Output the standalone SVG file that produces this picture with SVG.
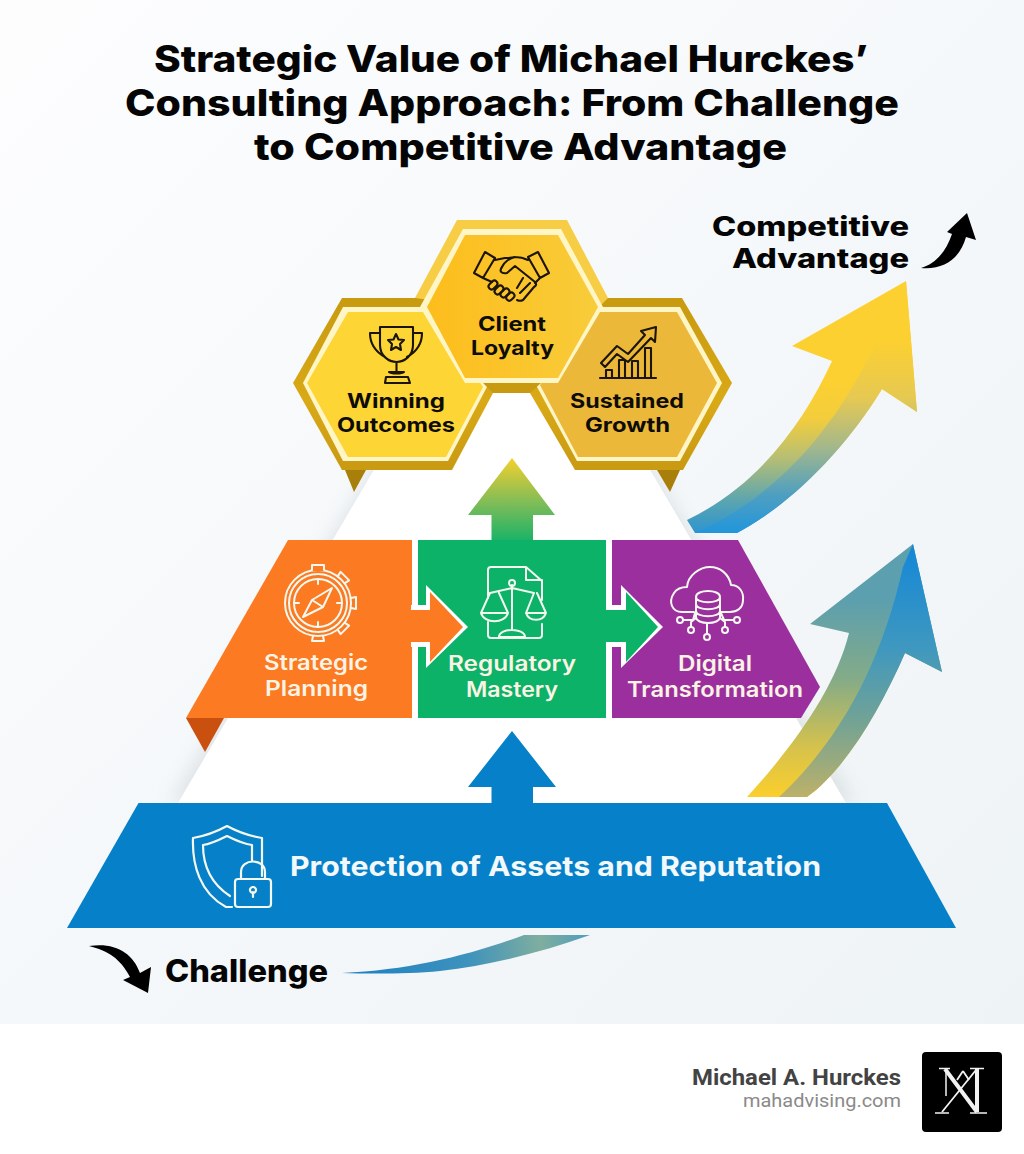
<svg xmlns="http://www.w3.org/2000/svg" width="1024" height="1154" viewBox="0 0 1024 1154">
<style>
text{font-family:"Inter","Liberation Sans",sans-serif}
.t{font-weight:800;fill:#050505;text-anchor:start}
.title{font-size:37px}
.hx{font-weight:700;font-size:20px;fill:#0e0c06}
.mid{font-weight:600;font-size:21px;fill:#fbf3e4}
.ic{fill:none;stroke:#1c1505;stroke-width:2.1;stroke-linejoin:round;stroke-linecap:round}
.iw{fill:none;stroke:#f4f8ef;stroke-width:2;stroke-linejoin:round;stroke-linecap:round}
.tooth{fill:#fb7a22;stroke:none}
</style>
<defs>
<linearGradient id="bg" x1="0" y1="0" x2="1" y2="1"><stop offset="0" stop-color="#fdfdfe"/><stop offset=".5" stop-color="#f5f8fa"/><stop offset="1" stop-color="#eef3f5"/></linearGradient>
<linearGradient id="hexTop" x1="0" y1="0" x2="1" y2="0"><stop offset="0" stop-color="#fdbd1c"/><stop offset="1" stop-color="#f8cc3a"/></linearGradient>
<linearGradient id="goldRim" x1="0" y1="0" x2="0" y2="1"><stop offset="0" stop-color="#c89a10"/><stop offset=".6" stop-color="#d9a916"/><stop offset="1" stop-color="#c99a12"/></linearGradient>
<linearGradient id="upG" x1="0" y1="458" x2="0" y2="540" gradientUnits="userSpaceOnUse"><stop offset="0" stop-color="#f4d02e"/><stop offset=".55" stop-color="#7fbc58"/><stop offset="1" stop-color="#1cb367"/></linearGradient>
<linearGradient id="yL" x1="0" y1="380" x2="0" y2="533" gradientUnits="userSpaceOnUse"><stop offset="0" stop-color="#fdd031"/><stop offset=".25" stop-color="#f3cd3c"/><stop offset=".5" stop-color="#b9bf72"/><stop offset=".8" stop-color="#58a4b2"/><stop offset="1" stop-color="#2e94d0"/></linearGradient>
<linearGradient id="yR" x1="0" y1="340" x2="0" y2="533" gradientUnits="userSpaceOnUse"><stop offset="0" stop-color="#fdd031"/><stop offset=".3" stop-color="#e6c952"/><stop offset=".55" stop-color="#a5b88a"/><stop offset=".8" stop-color="#4f9fc0"/><stop offset="1" stop-color="#2196dc"/></linearGradient>
<linearGradient id="bL" x1="0" y1="600" x2="0" y2="797" gradientUnits="userSpaceOnUse"><stop offset="0" stop-color="#5c9fae"/><stop offset=".4" stop-color="#84ab88"/><stop offset=".75" stop-color="#d6c24c"/><stop offset="1" stop-color="#fbcf2c"/></linearGradient>
<linearGradient id="bR" x1="0" y1="550" x2="0" y2="797" gradientUnits="userSpaceOnUse"><stop offset="0" stop-color="#1688d6"/><stop offset=".4" stop-color="#3f98bf"/><stop offset=".7" stop-color="#74a394"/><stop offset="1" stop-color="#bcb168"/></linearGradient>
<linearGradient id="sw" x1="342" y1="973" x2="590" y2="935" gradientUnits="userSpaceOnUse"><stop offset="0" stop-color="#1b80c4"/><stop offset=".5" stop-color="#3d92bd"/><stop offset=".8" stop-color="#7fae9f"/><stop offset="1" stop-color="#4f9dbd"/></linearGradient>
<filter id="blur" x="-10%" y="-10%" width="120%" height="120%"><feGaussianBlur stdDeviation="9"/></filter>
</defs>

<rect width="1024" height="1154" fill="#fff"/>
<rect id="background" width="1024" height="1024" fill="url(#bg)"/>
<polygon points="512,240 170,803 855,803" fill="#aab2b8" opacity=".3" filter="url(#blur)"/>
<polygon id="pyramid" points="512,235 178,803 846,803" fill="#fff"/>

<g id="title">
<text class="t title" x="154" y="72" textLength="714" lengthAdjust="spacingAndGlyphs">Strategic Value of Michael Hurckes’</text>
<text class="t title" x="125" y="116" textLength="774" lengthAdjust="spacingAndGlyphs">Consulting Approach: From Challenge</text>
<text class="t title" x="254" y="160" textLength="533" lengthAdjust="spacingAndGlyphs">to Competitive Advantage</text>
</g>

<g id="winning-outcomes">
<polygon points="345,470 366,470 354,492" fill="#a97f0c"/>
<polygon points="342,298 430,298 497,383 493,393 452,470 342,470 293,383" fill="url(#goldRim)"/>
<polygon points="343,307 430,307 488,385 448,461 343,461 303,383" fill="#fff6c8"/>
<polygon points="348,312 430,312 483,387 446,457 348,457 307,383" fill="#fdd535"/>
<path class="ic" d="M380,327 H413 V345 C413,356 404,362 396.500,362 C389,362 380,356 380,345 Z M380,333 H370 C370,345 376,352 385,357 M413,333 H422 C422,345 416,352 407,357 M396.500,362 V372 M389,372 C391,374 402,374 404,372 Z M385,383 L386,377 H408 L410,383 Z"/>
<polygon class="ic" points="396,334 398.500,339.500 404,340 400,344 401,350 396,347 391,350 392,344 388,340 393.500,339.500"/>
<text class="hx" x="347" y="408" textLength="98" lengthAdjust="spacingAndGlyphs">Winning</text>
<text class="hx" x="337" y="432" textLength="118" lengthAdjust="spacingAndGlyphs">Outcomes</text>
</g>

<g id="sustained-growth">
<polygon points="657,470 680,470 670,492" fill="#a97f0c"/>
<polygon points="595,298 682,298 732,383 683,470 575,470 530,393 526,383" fill="url(#goldRim)"/>
<polygon points="595,307 680,307 722,383 680,461 577,461 536,385" fill="#fff6c8"/>
<polygon points="597,312 677,312 717,383 677,457 578,457 540,385" fill="#ecb83a"/>
<path class="ic" d="M600,378 H656 M606,378 V370 H612 V378 M619,378 V360 H625 V378 M632,378 V361 H638 V378 M645,378 V348 H651 V378 M601,363 L617,346 L628,354 L645,335 L641,331 L656,327 L655,342 L651,338 L628,362 L617,354 L605,367 Z"/>
<text class="hx" x="570" y="408" textLength="114" lengthAdjust="spacingAndGlyphs">Sustained</text>
<text class="hx" x="585" y="432" textLength="85" lengthAdjust="spacingAndGlyphs">Growth</text>
</g>

<g id="client-loyalty">
<polygon points="483,383 541,383 530,393 493,393" fill="#c89a10"/>
<polygon points="457,220 567,220 608,298 598,308 558,300 430,300 415,298" fill="#f6cd45"/>
<polygon points="463,229 561,229 603,307 558,383 465,383 420,307" fill="#fff6c8"/>
<polygon points="465,235 558,235 598,307 558,378 465,378 427,307" fill="url(#hexTop)"/>
<path class="ic" d="M485,252 L495,258 L483,278 L474,273 Z M538,252 L528,257 L540,278 L549,273 Z M495,260 L505,258 C510,258 512,258 515,257 C520,257 524,258 528,260 M515,257 C510,258 504,262 502,267 C499,271 501,274 507,273 L515,266 L535,282 C537,284 536,286 534,287 L523,300 C521,301 519,301 517,300 M540,278 L535,283 M483,278 L492,282 M523,278 L517,288 M530,283 L520,293"/>
<rect class="ic" x="488" y="282" width="10" height="6" rx="3" transform="rotate(-45 493 285)"/>
<rect class="ic" x="494" y="287" width="10" height="6" rx="3" transform="rotate(-45 499 290)"/>
<rect class="ic" x="500" y="290" width="10" height="6" rx="3" transform="rotate(-45 505 293)"/>
<rect class="ic" x="506" y="294" width="9" height="6" rx="3" transform="rotate(-45 510 297)"/>
<text class="hx" x="478" y="331" textLength="68" lengthAdjust="spacingAndGlyphs">Client</text>
<text class="hx" x="471" y="355" textLength="83" lengthAdjust="spacingAndGlyphs">Loyalty</text>
</g>

<g id="regulatory-mastery">
<rect x="418" y="540" width="188" height="178" fill="#0bb268"/>
<path class="iw" d="M488,598 V570 Q488,567 491,567 H526 L542,581 V600 M542,624 V635 Q542,638 539,638 H491 Q488,638 488,635 V622 M526,567 V580 H542"/>
<path class="iw" d="M512,585 V629 M490,593 L512,588 L534,593 M490,593 L481,613 H508 L499,593 M534,593 L526,613 H546 L537,593 M481,613 C484,624 505,624 508,613 M526,613 C529,622 543,622 546,613 M499,637 C499,632 506,630 512,630 C518,630 525,632 525,637 Z"/>
<circle class="iw" cx="512" cy="583" r="3"/>
<text class="mid" x="448" y="671" textLength="128" lengthAdjust="spacingAndGlyphs">Regulatory</text>
<text class="mid" x="466" y="697" textLength="92" lengthAdjust="spacingAndGlyphs">Mastery</text>
</g>

<g id="digital-transformation">
<polygon points="612,540 738,540 820,687 801,718 612,718" fill="#9b2f9e"/>
<path class="iw" d="M694,612 H682 C672,612 668,602 674,593 C678,587 684,587 687,587 C688,575 700,567 710,567 C720,567 729,574 731,585 C739,585 744,592 743,600 C743,608 737,612 730,612 H720"/>
<path class="iw" d="M696,597 C696,589 720,589 720,597 V617 C720,625 696,625 696,617 Z M696,597 C696,604 720,604 720,597 M696,604 C696,611 720,611 720,604 M696,611 C696,618 720,618 720,611"/>
<path class="iw" d="M683,620 H693 L695,613 M691,627 V622 L696,618 M707,634 V623 M725,627 V622 L720,618 M734,620 H724 L721,613"/>
<circle class="iw" cx="680" cy="620" r="3"/><circle class="iw" cx="691" cy="630" r="3"/><circle class="iw" cx="707" cy="637" r="3"/><circle class="iw" cx="725" cy="630" r="3"/><circle class="iw" cx="737" cy="620" r="3"/>
<text class="mid" x="678" y="671" textLength="74" lengthAdjust="spacingAndGlyphs">Digital</text>
<text class="mid" x="627" y="697" textLength="176" lengthAdjust="spacingAndGlyphs">Transformation</text>
</g>

<g id="strategic-planning">
<polygon points="186,718 224,718 205,752" fill="#c9500f"/>
<polygon points="288,540 412,540 412,718 186,718" fill="#fb7a22"/>
<g transform="translate(318 603)">
<circle class="iw" r="24"/>
<circle class="iw" r="29"/>
<circle class="iw" r="33"/>
<g id="gear-teeth">
<path class="tooth" d="M-6,-34 H6 V-32 H-6 Z"/>
<path class="iw" d="M-6,-33 L-6,-38 H6 V-33"/>
<path class="iw" d="M-5,-33 L-6,-38 H6 L5,-33" transform="rotate(45)"/>
<path class="iw" d="M-5,-33 L-6,-38 H6 L5,-33" transform="rotate(90)"/>
<path class="iw" d="M-5,-33 L-6,-38 H6 L5,-33" transform="rotate(135)"/>
<path class="iw" d="M-5,-33 L-6,-38 H6 L5,-33" transform="rotate(180)"/>
</g>
<path class="iw" d="M0,-24 V-19 M24,0 H19 M0,24 V19 M-24,0 H-19"/>
<path class="iw" d="M14,-15 L5,4 L-15,14 L-6,-3 Z M-6,-3 L5,4"/>
</g>
<text class="mid" x="264" y="670" textLength="104" lengthAdjust="spacingAndGlyphs">Strategic</text>
<text class="mid" x="265" y="696" textLength="103" lengthAdjust="spacingAndGlyphs">Planning</text>
</g>

<g id="protection">
<polygon points="138.500,803 887,803 956,928 67,928" fill="#0680c8"/>
<g class="iw" style="stroke-width:2.200">
<path fill="none" d="M262,876 V838 C250,836 238,832 227,826 C216,832 205,836 193,838 C192,865 200,893 226,907 L232,907"/>
<path fill="none" d="M252,861 V845 C244,844 235,840 227,836 C219,840 211,844 203,845 C203,866 210,883 230,896"/>
<rect x="235" y="879" width="36" height="28" rx="3" fill="none"/>
<path fill="none" d="M241,879 V872 C241,858 265,858 265,872 V879"/>
<path d="M253,887 a3,3 0 1 1 -.01,0 M253,892 V897" fill="none"/>
</g>
<text x="290" y="876" font-size="27" font-weight="700" fill="#f3f8fb" textLength="531" lengthAdjust="spacingAndGlyphs">Protection of Assets and Reputation</text>
</g>

<g id="connectors">
<polygon points="512,458 468,515 491.500,515 491.500,540 533,540 533,515 555,515" fill="url(#upG)"/>
<polygon points="512,731 468,787 491.500,787 491.500,803 533,803 533,787 556,787" fill="#0680c8"/>
<polygon points="411,605 426,605 426,585 468,627 426,668 426,647 411,647" fill="#fff"/>
<polygon points="410,610 430,610 430,592 463,627 430,662 430,642 410,642" fill="#fb7a22"/>
<polygon points="606,605 621,605 621,585 663,627 621,668 621,647 606,647" fill="#fff"/>
<polygon points="605,610 626,610 626,592 658,627 626,662 626,642 605,642" fill="#0bb268"/>

<path fill="url(#yL)" d="M906,281 L792,346 L832,361 C805,420 760,485 687,520 L695,533 L737,533 C790,505 845,450 882,389 L917,412 Z"/>
<path fill="url(#yR)" d="M906,281 L917,412 L882,389 C845,450 790,505 737,533 L695,533 C770,500 835,435 880,333 Z"/>
<path fill="url(#bL)" d="M913,544 L810,624 L849,633 C835,690 790,750 747,797 L807,797 C845,770 880,710 905,653 L942,672 Z"/>
<path fill="url(#bR)" d="M913,544 L942,672 L905,653 C880,710 845,770 807,797 L779,797 C835,745 880,670 903,567 Z"/>

<path fill="url(#sw)" d="M342,973 C410,970 470,955 524,935 H590 C540,953 490,965 440,971 C410,974 370,974 342,973 Z"/>
<path id="arrow-challenge" fill="#000" d="M89,946 C115,942 133,953 140,973 L151,967 L148,993 L123,980 L130,977 C120,958 108,951 89,946 Z"/>
<path id="arrow-advantage" fill="#000" d="M921,268 C935,264 946,252 952,234 L947,232 L967,213 L976,240 L966,237 C960,258 945,270 921,268 Z"/>
</g>

<g id="label-advantage">
<text class="t" font-size="26.500" x="712" y="236" textLength="197" lengthAdjust="spacingAndGlyphs">Competitive</text>
<text class="t" font-size="26.500" x="732" y="268" textLength="177" lengthAdjust="spacingAndGlyphs">Advantage</text>
</g>
<g id="label-challenge"><text class="t" font-size="31" x="165" y="982" textLength="163" lengthAdjust="spacingAndGlyphs">Challenge</text></g>

<g id="brand">
<text x="901" y="1085" text-anchor="end" style="font-family:Roboto,'Liberation Sans',sans-serif" font-size="22.500" font-weight="700" fill="#434343" textLength="209" lengthAdjust="spacingAndGlyphs">Michael A. Hurckes</text>
<text x="901" y="1107" text-anchor="end" style="font-family:Roboto,'Liberation Sans',sans-serif" font-size="18" fill="#8a8a8a" textLength="158" lengthAdjust="spacingAndGlyphs">mahadvising.com</text>
<rect x="922" y="1052" width="80" height="80" rx="4" fill="#000"/>
<g fill="none" stroke="#f2f2f2" stroke-linecap="butt">
<path stroke-width="1.500" d="M939,1068.500 H950 M970,1068.500 H984 M946,1069 V1096 M935,1113 H949 M970,1113 H987"/>
<path stroke-width="4" d="M945,1069 L977,1112 M977,1069 V1112"/>
<path stroke-width="1.800" d="M976,1070 L942,1112"/>
<path stroke-width="1.800" d="M963,1071 L957,1080 M963,1071 L969,1080"/>
</g>
</g>
</svg>
